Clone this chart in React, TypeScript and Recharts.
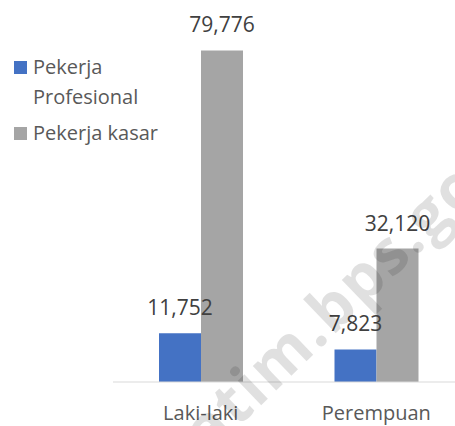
import React from "react";
import { BarChart, Bar, XAxis, YAxis, Legend, LabelList } from "recharts";

// Jenis kelamin vs jenis pekerjaan
const categories = ["Laki-laki", "Perempuan"];
const profesional = [11752, 7823];
const kasar = [79776, 32120];

const chartData = categories.map((name, i) => ({
  name,
  profesional: profesional[i],
  kasar: kasar[i],
}));

const FONT = "'Open Sans', 'Noto Sans', sans-serif";
const LEGEND_W = 170;

const renderLegend = (props: any) => {
  const { payload } = props;
  return (
    <div style={{ fontFamily: FONT, fontSize: 20, lineHeight: "30px", color: "#595959" }}>
      {payload.map((entry: any) => (
        <div key={entry.value} style={{ display: "flex", alignItems: "flex-start", marginBottom: 6 }}>
          <span
            style={{
              width: 13,
              height: 13,
              marginTop: 9,
              marginRight: 6,
              background: entry.color,
              flex: "0 0 auto",
            }}
          />
          <span style={{ width: 135 }}>{entry.value}</span>
        </div>
      ))}
    </div>
  );
};

const fmt = (v: any) => Number(v).toLocaleString("en-US");

export default function App() {
  return (
    <div style={{ position: "absolute", left: 0, top: 0, width: 455, height: 426, overflow: "hidden", background: "#fff" }}>
      <BarChart
        width={455}
        height={426}
        data={chartData}
        // legend box width gets added to the left margin, so subtract it here
        margin={{ top: 8, right: -9, bottom: 0, left: 113 - LEGEND_W }}
        barGap={0}
        barSize={42}
      >
        <XAxis
          dataKey="name"
          axisLine={{ stroke: "#D9D9D9", strokeWidth: 1 }}
          tickLine={false}
          tickSize={0}
          tickMargin={24}
          height={44}
          tick={{ fill: "#595959", fontSize: 20, fontFamily: FONT }}
        />
        <YAxis hide domain={[0, 90000]} />
        <Legend
          layout="vertical"
          verticalAlign="top"
          align="left"
          content={renderLegend}
          wrapperStyle={{ top: 52, left: 14, width: LEGEND_W }}
        />
        <Bar dataKey="profesional" name="Pekerja Profesional" fill="#4472C4" isAnimationActive={false}>
          <LabelList
            dataKey="profesional"
            position="top"
            offset={18}
            formatter={fmt}
            style={{ fill: "#404040", fontSize: 21, fontFamily: FONT }}
          />
        </Bar>
        <Bar dataKey="kasar" name="Pekerja kasar" fill="#A5A5A5" isAnimationActive={false}>
          <LabelList
            dataKey="kasar"
            position="top"
            offset={18}
            formatter={fmt}
            style={{ fill: "#404040", fontSize: 21, fontFamily: FONT }}
          />
        </Bar>
      </BarChart>
      <div
        style={{
          position: "absolute",
          left: 352,
          top: 284,
          transform: "translate(-50%, -50%) rotate(-44deg)",
          fontFamily: FONT,
          fontWeight: 700,
          fontSize: 62,
          letterSpacing: 2,
          whiteSpace: "nowrap",
          color: "rgba(0,0,0,0.12)",
          pointerEvents: "none",
        }}
      >
        jatim.bps.go.id
      </div>
    </div>
  );
}
